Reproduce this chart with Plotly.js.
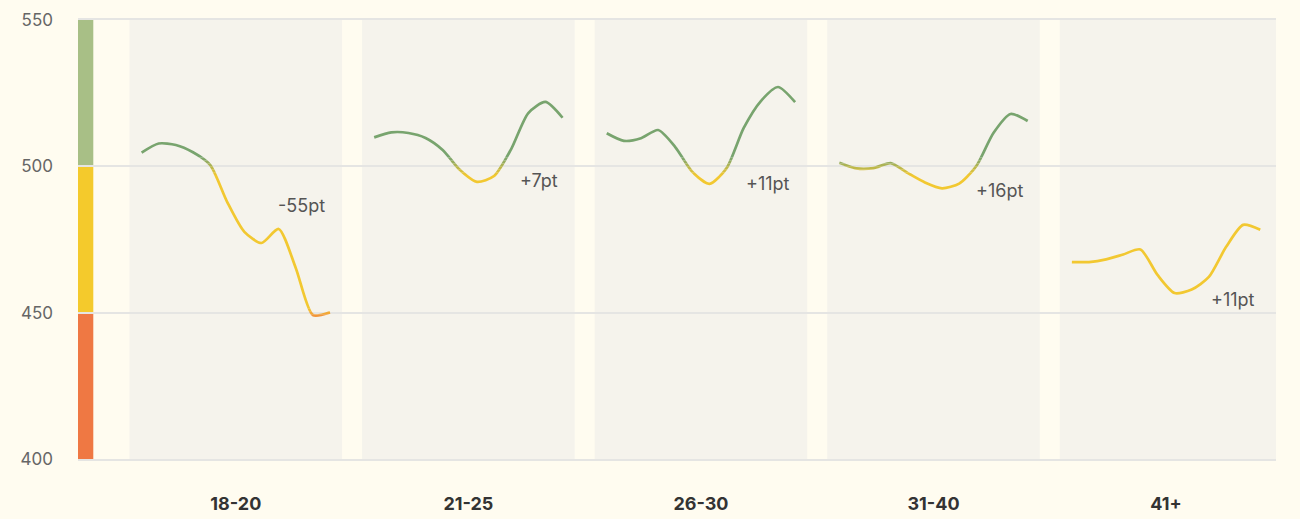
<!DOCTYPE html>
<html>
<head>
<meta charset="utf-8">
<script src="https://cdn.plot.ly/plotly-3.0.1.min.js"></script>
<style>
html,body{margin:0;padding:0;background:#fffcf0;}
#chart{width:1300px;height:519px;}
</style>
</head>
<body>
<div id="chart"></div>
<script>
// ---- data ----
const categories = ['18-20', '21-25', '26-30', '31-40', '41+'];
const s18_20 = [504.7, 507.8, 507.3, 504.8, 500.5, 487.8, 477.6, 473.8, 478.6, 465.3, 449.2, 450.1];
const s21_25 = [509.9, 511.6, 511.4, 509.7, 505.6, 498.8, 494.7, 496.7, 505.9, 518.2, 522.0, 516.6];
const s26_30 = [511.3, 508.7, 509.6, 512.4, 506.6, 498.1, 494.0, 499.4, 513.1, 522.3, 527.1, 521.9];
const s31_40 = [501.2, 499.3, 499.4, 501.1, 497.7, 494.5, 492.5, 494.1, 500.1, 511.4, 517.9, 515.5];
const s41 = [467.3, 467.3, 468.2, 469.9, 471.6, 462.9, 456.7, 457.9, 462.2, 472.4, 480.0, 478.3];
const deltaLabels = ['-55pt', '+7pt', '+11pt', '+16pt', '+11pt'];
const yTicks = [400, 450, 500, 550];
const bandLimits = [400, 450, 500, 550];

const series = [s18_20, s21_25, s26_30, s31_40, s41];

// ---- styling ----
const FONT = 'Inter, "Open Sans", sans-serif';
const lineGreen = [120, 164, 110];
const lineYellow = [242, 200, 49];
const lineOrange = [240, 118, 63];
const barColors = ['#ef7843', '#f4ca2c', '#a8bf86'];
const GRID = '#e5e5e3';
const XMIN = -0.6785, XMAX = 4.4727;
const HALF = 0.405;      // half span of a line inside its panel
const PANEL = 0.457;     // half width of a panel background
const labelY = [486.5, 495.3, 494.2, 491.9, 454.6];

function mix(a, b, t) {
  return 'rgb(' + a.map((v, i) => Math.round(v + (b[i] - v) * t)).join(',') + ')';
}

// build combined x/y with gaps between panels
const X = [], Y = [];
series.forEach((s, i) => {
  s.forEach((v, k) => {
    X.push(i - HALF + 2 * HALF * k / (s.length - 1));
    Y.push(v);
  });
  X.push(null); Y.push(null);
});

// colour bands (value-dependent colouring of the line)
const bands = [];
bands.push([400, 447.5, mix(lineOrange, lineOrange, 0)]);
for (let a = 447.5; a < 451.5; a++) bands.push([a, a + 1, mix(lineOrange, lineYellow, (a + 0.5 - 447.5) / 4)]);
bands.push([451.5, 497, mix(lineYellow, lineYellow, 0)]);
for (let a = 497; a < 503; a++) bands.push([a, a + 1, mix(lineYellow, lineGreen, (a + 0.5 - 497) / 6)]);
bands.push([503, 550, mix(lineGreen, lineGreen, 0)]);

const traces = [];
const layout = {
  width: 1300, height: 519,
  margin: {l: 78, r: 24, t: 20, b: 60},
  paper_bgcolor: '#fffcf0',
  plot_bgcolor: 'rgba(0,0,0,0)',
  showlegend: false,
  hovermode: false,
  font: {family: FONT},
  xaxis: {
    range: [XMIN, XMAX], tickmode: 'array', tickvals: categories.map((c, i) => i), ticktext: categories,
    showgrid: false, zeroline: false, showline: true, mirror: true, linecolor: GRID, linewidth: 2, ticks: '',
    ticklabelstandoff: 27,
    tickfont: {family: FONT, size: 18, color: '#333', weight: 'bold'}, fixedrange: true
  },
  yaxis: {
    range: [400, 550], tickmode: 'array', tickvals: yTicks, ticktext: yTicks.map(String),
    showgrid: true, gridcolor: GRID, gridwidth: 2, zeroline: false, showline: false, ticks: '',
    ticklabelstandoff: 24,
    tickfont: {family: FONT, size: 17, color: '#666'}, fixedrange: true
  },
  shapes: [],
  annotations: []
};

bands.forEach((b, j) => {
  const name = 'yaxis' + (j + 2);
  layout[name] = {
    domain: [(b[0] - 400) / 150, (b[1] - 400) / 150],
    range: [b[0], b[1]], anchor: 'x', visible: false, showgrid: false, zeroline: false, fixedrange: true
  };
  traces.push({
    type: 'scatter', mode: 'lines', x: X, y: Y, xaxis: 'x', yaxis: 'y' + (j + 2),
    connectgaps: false, hoverinfo: 'skip',
    line: {color: b[2], width: 2.7, shape: 'spline', smoothing: 0.7}
  });
});

// panel backgrounds
categories.forEach((c, i) => {
  layout.shapes.push({
    type: 'rect', layer: 'below', xref: 'x', yref: 'paper',
    x0: i - PANEL, x1: (i === categories.length - 1) ? XMAX : i + PANEL, y0: 0, y1: 1,
    fillcolor: '#f5f3ec', line: {width: 0}
  });
});
// colour key bar
for (let k = 0; k < bandLimits.length - 1; k++) {
  layout.shapes.push({
    type: 'rect', layer: 'below', xref: 'x', yref: 'y',
    x0: XMIN, x1: -0.6127, y0: bandLimits[k], y1: bandLimits[k + 1],
    fillcolor: barColors[k], line: {width: 0}
  });
}
// delta labels
deltaLabels.forEach((t, i) => {
  layout.annotations.push({
    xref: 'x', yref: 'y', x: i + HALF, y: labelY[i], text: t, showarrow: false,
    xanchor: 'right', yanchor: 'middle', xshift: -3,
    font: {family: FONT, size: 18, color: '#555'}
  });
});

Plotly.newPlot('chart', traces, layout, {displayModeBar: false, staticPlot: true});
</script>
</body>
</html>
